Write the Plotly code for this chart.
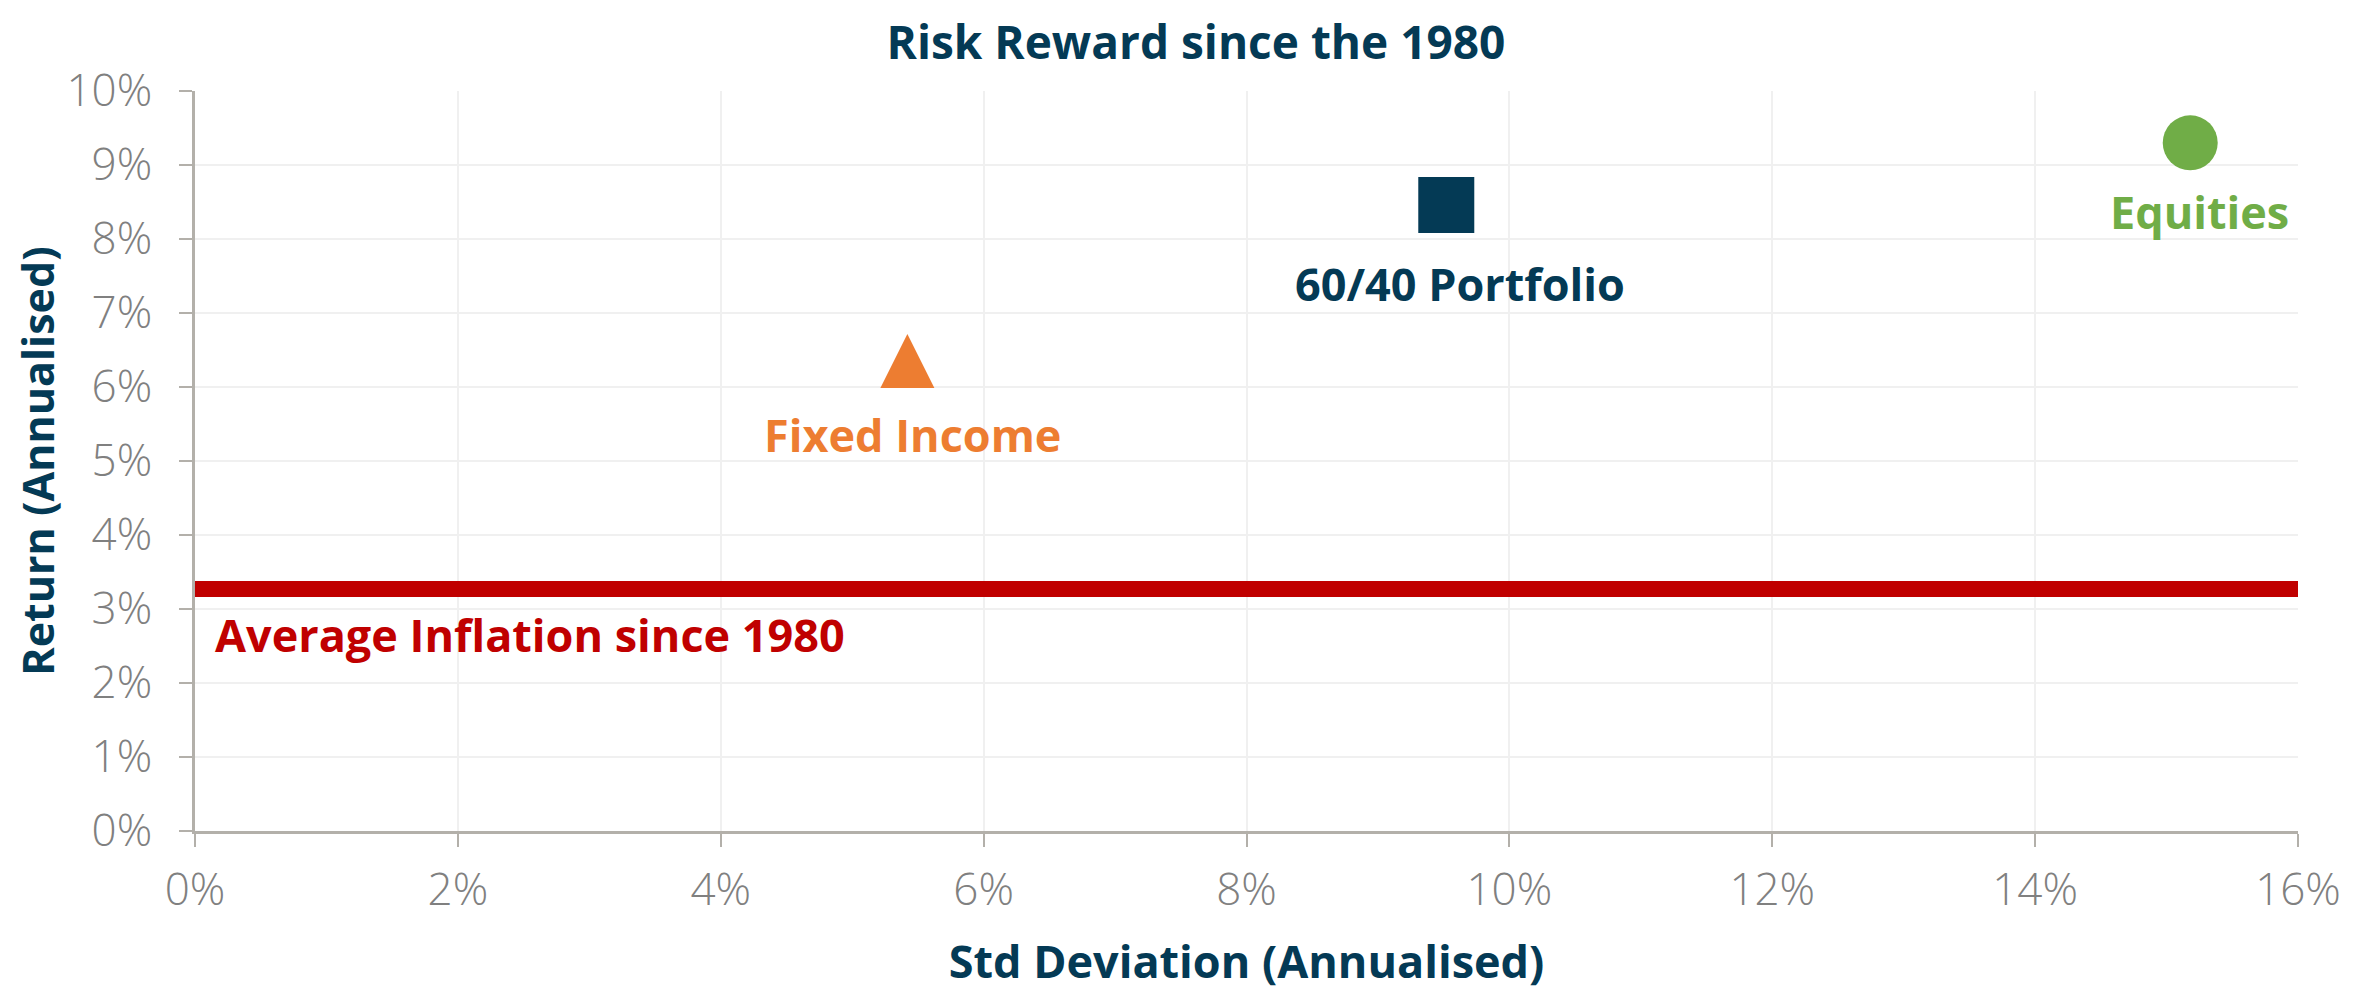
import plotly.graph_objects as go

# ---- data ----
assets = ["Fixed Income", "60/40 Portfolio", "Equities"]
std_dev = [5.42, 9.52, 15.18]       # % annualised
returns = [6.35, 8.46, 9.30]        # % annualised
inflation_label = "Average Inflation since 1980"
avg_inflation = 3.27
x_ticks = [0, 2, 4, 6, 8, 10, 12, 14, 16]
y_ticks = [0, 1, 2, 3, 4, 5, 6, 7, 8, 9, 10]

# ---- styles ----
colors = {"Fixed Income": "#ED7D31", "60/40 Portfolio": "#043A55", "Equities": "#70AD47"}
NAVY = "#043A55"
RED = "#C00000"
GRAY = "#808080"
AXIS = "#B3B0AA"
GRID = "#F0F0F0"
FONT = "Open Sans"
LABEL_SIZE = 45
PAGE_OFFSET = 8  # default body margin of the html page

fig = go.Figure()

# inflation line
fig.add_trace(go.Scatter(
    x=[x_ticks[0], x_ticks[-1]], y=[avg_inflation, avg_inflation],
    mode="lines", line=dict(color=RED, width=16), hoverinfo="skip", showlegend=False))

marker_styles = {
    "Fixed Income": dict(symbol="arrow-down", angle=180, standoff=27, size=54),
    "60/40 Portfolio": dict(symbol="square", size=56),
    "Equities": dict(symbol="circle", size=55),
}
label_shift = {
    "Fixed Income": (5, -73),
    "60/40 Portfolio": (14, -79),
    "Equities": (9, -69),
}

for name, sx, ry in zip(assets, std_dev, returns):
    ms = dict(marker_styles[name])
    ms["color"] = colors[name]
    ms["line"] = dict(width=0)
    fig.add_trace(go.Scatter(x=[sx], y=[ry], mode="markers", marker=ms,
                             name=name, showlegend=False))
    dx, dy = label_shift[name]
    fig.add_annotation(x=sx, y=ry, xref="x", yref="y", text=f"<b>{name}</b>",
                       showarrow=False, xshift=dx, yshift=dy,
                       font=dict(family=FONT, size=LABEL_SIZE, color=colors[name]))

fig.add_annotation(x=x_ticks[0], y=avg_inflation, xref="x", yref="y",
                   text=f"<b>{inflation_label}</b>", showarrow=False,
                   xanchor="left", xshift=18, yshift=-45,
                   font=dict(family=FONT, size=LABEL_SIZE, color=RED))

fig.update_layout(
    width=2372, height=990,
    paper_bgcolor="white", plot_bgcolor="white",
    margin=dict(l=195 - PAGE_OFFSET, r=74 + PAGE_OFFSET, t=91 - PAGE_OFFSET,
                b=159 + PAGE_OFFSET, autoexpand=False),
    font=dict(family=FONT),
    title=dict(text="<b>Risk Reward since the 1980</b>", xref="container",
               x=(1196 - PAGE_OFFSET) / 2372,
               xanchor="center", yref="container", y=1 - (43 - PAGE_OFFSET) / 990,
               yanchor="middle",
               font=dict(family=FONT, size=46, color=NAVY)),
)

fig.update_xaxes(
    range=[x_ticks[0], x_ticks[-1]], tickvals=x_ticks,
    ticktext=[f"{v}%" for v in x_ticks],
    showgrid=True, gridcolor=GRID, gridwidth=2,
    showline=True, linecolor=AXIS, linewidth=3,
    ticks="outside", ticklen=13, tickwidth=2, tickcolor=AXIS,
    tickfont=dict(family=FONT, size=44, color=GRAY, weight=300),
    ticklabelstandoff=5,
    zeroline=False, automargin=False,
    title=dict(text="<b>Std Deviation (Annualised)</b>", standoff=30,
               font=dict(family=FONT, size=45, color=NAVY)),
)
fig.update_yaxes(
    range=[y_ticks[0], y_ticks[-1]], tickvals=y_ticks,
    ticktext=[f"{v}%" for v in y_ticks],
    showgrid=True, gridcolor=GRID, gridwidth=2,
    showline=True, linecolor=AXIS, linewidth=3,
    ticks="outside", ticklen=13, tickwidth=2, tickcolor=AXIS,
    tickfont=dict(family=FONT, size=44, color=GRAY, weight=300),
    ticklabelstandoff=18,
    zeroline=False, automargin=False,
    title=dict(text="<b>Return (Annualised)</b>", standoff=16,
               font=dict(family=FONT, size=43, color=NAVY)),
)

fig.write_html("out.html")
